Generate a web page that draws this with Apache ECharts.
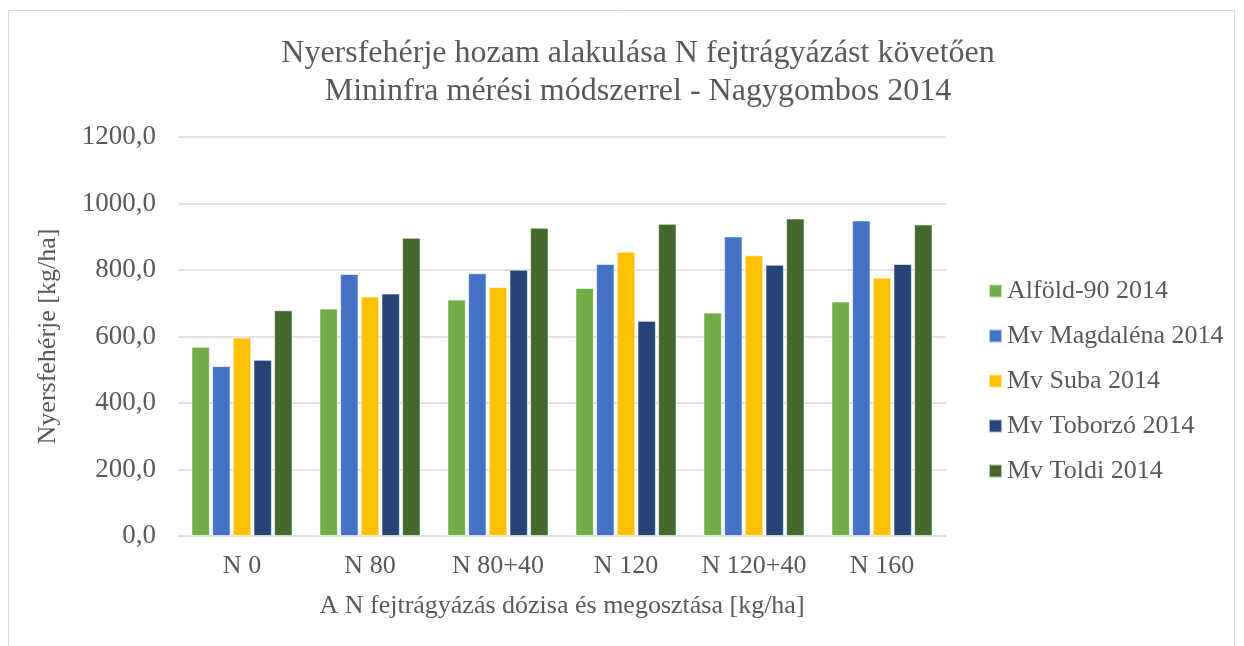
<!DOCTYPE html>
<html>
<head>
<meta charset="utf-8">
<script src="https://cdn.jsdelivr.net/npm/echarts@6/dist/echarts.min.js"></script>
<style>
  html, body { margin: 0; padding: 0; background: #fff; }
  #main { width: 1244px; height: 646px; }
</style>
</head>
<body>
<div id="main"></div>
<script>
var categories = ['N 0', 'N 80', 'N 80+40', 'N 120', 'N 120+40', 'N 160'];
var seriesNames = ['Alföld-90 2014', 'Mv Magdaléna 2014', 'Mv Suba 2014', 'Mv Toborzó 2014', 'Mv Toldi 2014'];
var alfold = [569, 684, 711, 746, 672, 705];
var magdalena = [511, 788, 790, 818, 901, 949];
var suba = [597, 720, 749, 855, 844, 777];
var toborzo = [530, 729, 801, 647, 816, 818];
var toldi = [679, 897, 927, 939, 955, 937];
var colors = ['#70AD47', '#4472C4', '#FFC000', '#264478', '#43682B'];

var chart = echarts.init(document.getElementById('main'));
var font = 'Liberation Serif, Times New Roman, serif';
var allData = [alfold, magdalena, suba, toborzo, toldi];

var series = seriesNames.map(function (name, i) {
    return {
        name: name,
        type: 'bar',
        data: allData[i],
        barGap: '12%',
        barCategoryGap: '21%',
        itemStyle: { color: colors[i], borderColor: 'rgba(255,255,255,0.6)', borderWidth: 1 }
    };
});

var option = {
    animation: false,
    textStyle: { fontFamily: font },
    graphic: [{
        type: 'rect',
        shape: { x: 8.5, y: 10.5, width: 1226, height: 640 },
        style: { fill: 'none', stroke: '#d9d9d9', lineWidth: 1 }
    }],
    title: {
        text: 'Nyersfehérje hozam alakulása N fejtrágyázást követően\nMininfra mérési módszerrel - Nagygombos 2014',
        left: 633,
        textAlign: 'center',
        top: 30,
        textStyle: { fontFamily: font, fontSize: 32, fontWeight: 'normal', color: '#595959', lineHeight: 38 }
    },
    legend: {
        orient: 'vertical',
        left: 983,
        top: 273,
        itemWidth: 13,
        itemHeight: 13,
        itemGap: 19,
        icon: 'rect',
        textStyle: { fontFamily: font, fontSize: 26, color: '#595959' },
        data: seriesNames
    },
    grid: { left: 178, right: 298, top: 137, bottom: 110, containLabel: false },
    xAxis: {
        type: 'category',
        data: categories,
        name: 'A N fejtrágyázás dózisa és megosztása [kg/ha]',
        nameLocation: 'middle',
        nameGap: 57,
        nameTextStyle: { fontFamily: font, fontSize: 26, color: '#595959' },
        axisLine: { lineStyle: { color: '#d9d9d9', width: 1 } },
        axisTick: { show: false },
        axisLabel: { fontFamily: font, fontSize: 26, color: '#595959', margin: 17, interval: 0, hideOverlap: false }
    },
    yAxis: {
        type: 'value',
        min: 0,
        max: 1200,
        interval: 200,
        name: 'Nyersfehérje [kg/ha]',
        nameLocation: 'middle',
        nameGap: 117,
        nameTextStyle: { fontFamily: font, fontSize: 26, color: '#595959' },
        axisLine: { show: false },
        axisTick: { show: false },
        splitLine: { lineStyle: { color: '#d9d9d9', width: 1.5 } },
        axisLabel: {
            fontFamily: font, fontSize: 27, color: '#595959', margin: 22,
            formatter: function (v) { return v.toFixed(1).replace('.', ','); }
        }
    },
    series: series
};
chart.setOption(option);
</script>
</body>
</html>
